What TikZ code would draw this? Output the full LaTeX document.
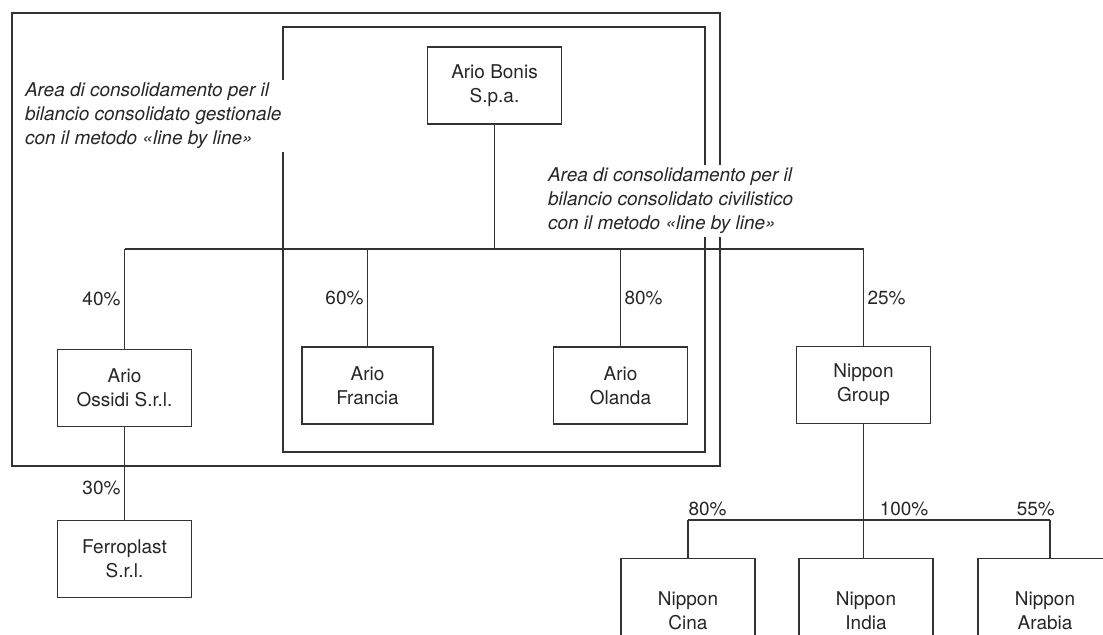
\documentclass[tikz,border=0pt]{standalone}
\usepackage{fontspec}
\setmainfont{TeX Gyre Heros}
\usetikzlibrary{positioning}

\begin{document}
\begin{tikzpicture}[x=0.02cm, y=-0.02cm, line width=0.6pt, color=black!80,
  every node/.style={font=\fontsize{10.8pt}{13.6pt}\selectfont, text=black!85},
  company/.style={draw, minimum width=2.68cm, minimum height=1.54cm, align=center},
  deepbox/.style={company, minimum height=2.08cm, anchor=north},
  area/.style={fill=white, align=left, inner sep=2pt, font=\fontsize{10.8pt}{13.6pt}\selectfont\itshape},
  pct/.style={inner sep=2pt}]

\useasboundingbox (0,0) rectangle (1103,635);

% -----------------------------------------------------
%  Areas of consolidation
% -----------------------------------------------------
\draw (12,13) rectangle (720,466);   % gestionale
\draw (283,27) rectangle (705,452);  % civilistico

\node[area, anchor=west] (areaG) at (21,116)
  {Area di consolidamento per il\\ bilancio consolidato gestionale\\ con il metodo «line by line»};
\node[area, anchor=west] (areaC) at (544,201)
  {Area di consolidamento per il\\ bilancio consolidato civilistico\\ con il metodo «line by line»};

% -----------------------------------------------------
%  Holding and first level
% -----------------------------------------------------
\node[company] (bonis) at (494.5,85.5) {Ario Bonis\\ S.p.a.};

\node[company] (ossidi)  at (124.5,388)   {Ario\\ Ossidi S.r.l.};
\node[company, minimum width=2.62cm] (francia) at (367.5,385.5) {Ario\\ Francia};
\node[company] (olanda)  at (620.5,385.5) {Ario\\ Olanda};
\node[company] (ngroup)  at (863.5,385)   {Nippon\\ Group};

\coordinate (barL) at (124.5,249);
\coordinate (barR) at (863.5,249);

\draw (barL) -- (barR);
\draw (bonis) -- (bonis |- barL);

\draw (barL) -- node[pct, left] (p40) {40\%} (ossidi);
\draw (francia.north |- barL) -- node[pct, left] (p60) {60\%} (francia);
\draw (olanda.north |- barL) -- node[pct, right] (p80a) {80\%} (olanda);
\draw (barR) -- node[pct, right] (p25) {25\%} (ngroup);

% -----------------------------------------------------
%  Second level
% -----------------------------------------------------
\node[company] (ferro) at (124.5,559) {Ferroplast\\ S.r.l.};

\draw (ossidi) -- node[pct, left, pos=0.66] (p30) {30\%} (ferro);

% Nippon subsidiaries (cut at the page bottom)
\foreach \name/\x/\txt in {cina/688/Cina, india/866/India, arabia/1045/Arabia}{
  \node[deepbox] (\name) at (\x,558) {Nippon\\ \txt};
}

\coordinate (subL) at (688,520);
\coordinate (subR) at (1050,520);

\draw (subL) -- (subR);
\draw (ngroup) -- (ngroup |- india.north);
\draw (subL) -- (cina);
\draw (subR) -- (subR |- arabia.north);

\node[pct, anchor=south west, inner xsep=0pt] (p80b) at (subL) {80\%};
\node[pct, anchor=south west, xshift=7pt] (p100) at (ngroup |- subL) {100\%};
\node[pct, anchor=south east, xshift=3pt, inner xsep=0pt] (p55) at (subR) {55\%};

\end{tikzpicture}
\end{document}
